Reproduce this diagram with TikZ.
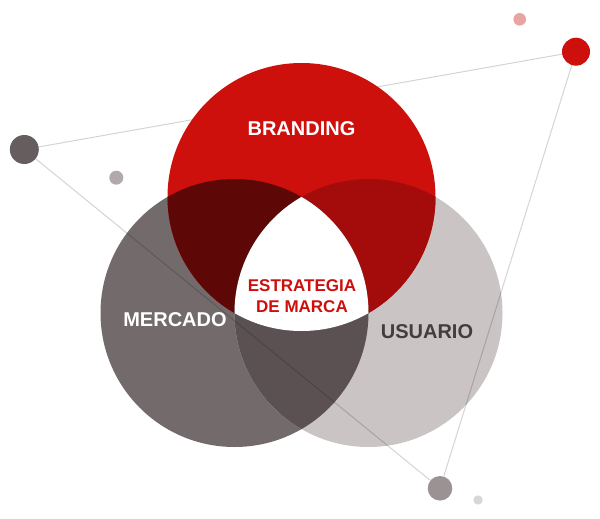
\documentclass[tikz,border=0pt]{standalone}
\usepackage{fontspec}
\setmainfont{Liberation Sans}
\definecolor{cRed}{RGB}{206,16,13}
\definecolor{cMer}{RGB}{115,106,107}
\definecolor{cUsu}{RGB}{202,196,197}
\definecolor{cRM}{RGB}{93,7,6}
\definecolor{cRU}{RGB}{163,12,10}
\definecolor{cMU}{RGB}{91,81,83}
\definecolor{cText}{RGB}{64,62,62}
\definecolor{cDotA}{RGB}{101,93,94}
\definecolor{cDotB}{RGB}{177,169,170}
\definecolor{cDotC}{RGB}{232,163,163}
\definecolor{cDotE}{RGB}{155,146,148}
\definecolor{cDotF}{RGB}{218,214,214}
\begin{document}
\begin{tikzpicture}[x=1pt,y=-1pt,
  dot/.style={circle,inner sep=0pt,minimum size=#1,draw=none},
  link/.style={draw=black,draw opacity=0.17,line width=1pt},
  lbl/.style={font=\fontsize{20}{24}\selectfont\bfseries}]
\useasboundingbox (0,0) rectangle (600,519);
\coordinate (R) at (301.5,197);
\coordinate (M) at (234.5,313);
\coordinate (U) at (368.5,313);
% dots
\node[dot=29pt,fill=cDotA] (d1) at (24.3,149.5) {};
\node[dot=14pt,fill=cDotB] (d2) at (116.3,177.7) {};
\node[dot=12.6pt,fill=cDotC] (d3) at (519.7,19.3) {};
\node[dot=28pt,fill=cRed] (d4) at (576,51.7) {};
\node[dot=24.6pt,fill=cDotE] (d5) at (440,488.3) {};
\node[dot=9.4pt,fill=cDotF] (d6) at (478,500) {};
% link behind the circles
\draw[link] (d1) -- (d4);
% circles
\fill[cMer] (M) circle[radius=134pt];
\fill[cUsu] (U) circle[radius=134pt];
\fill[cRed] (R) circle[radius=134pt];
\begin{scope}
  \clip (U) circle[radius=134pt];
  \fill[cRU] (R) circle[radius=134pt];
\end{scope}
\begin{scope}
  \clip (M) circle[radius=134pt];
  \fill[cRM] (R) circle[radius=134pt];
  \fill[cMU] (U) circle[radius=134pt];
  \clip (U) circle[radius=134pt];
  \fill[white] (R) circle[radius=134pt];
\end{scope}
% links over the circles
\draw[link] (d1) -- (d5);
\draw[link] (d4) -- (d5);
% labels
\node[lbl,text=white] (tb) at (301.5,129) {BRANDING};
\node[lbl,text=white] (tm) at (175,320) {MERCADO};
\node[lbl,text=cText] (tu) at (427,332) {USUARIO};
\node[font=\fontsize{17}{21}\selectfont\bfseries,text=cRed,align=center] (ts) at (302,296) {ESTRATEGIA\\DE MARCA};
\end{tikzpicture}
\end{document}
